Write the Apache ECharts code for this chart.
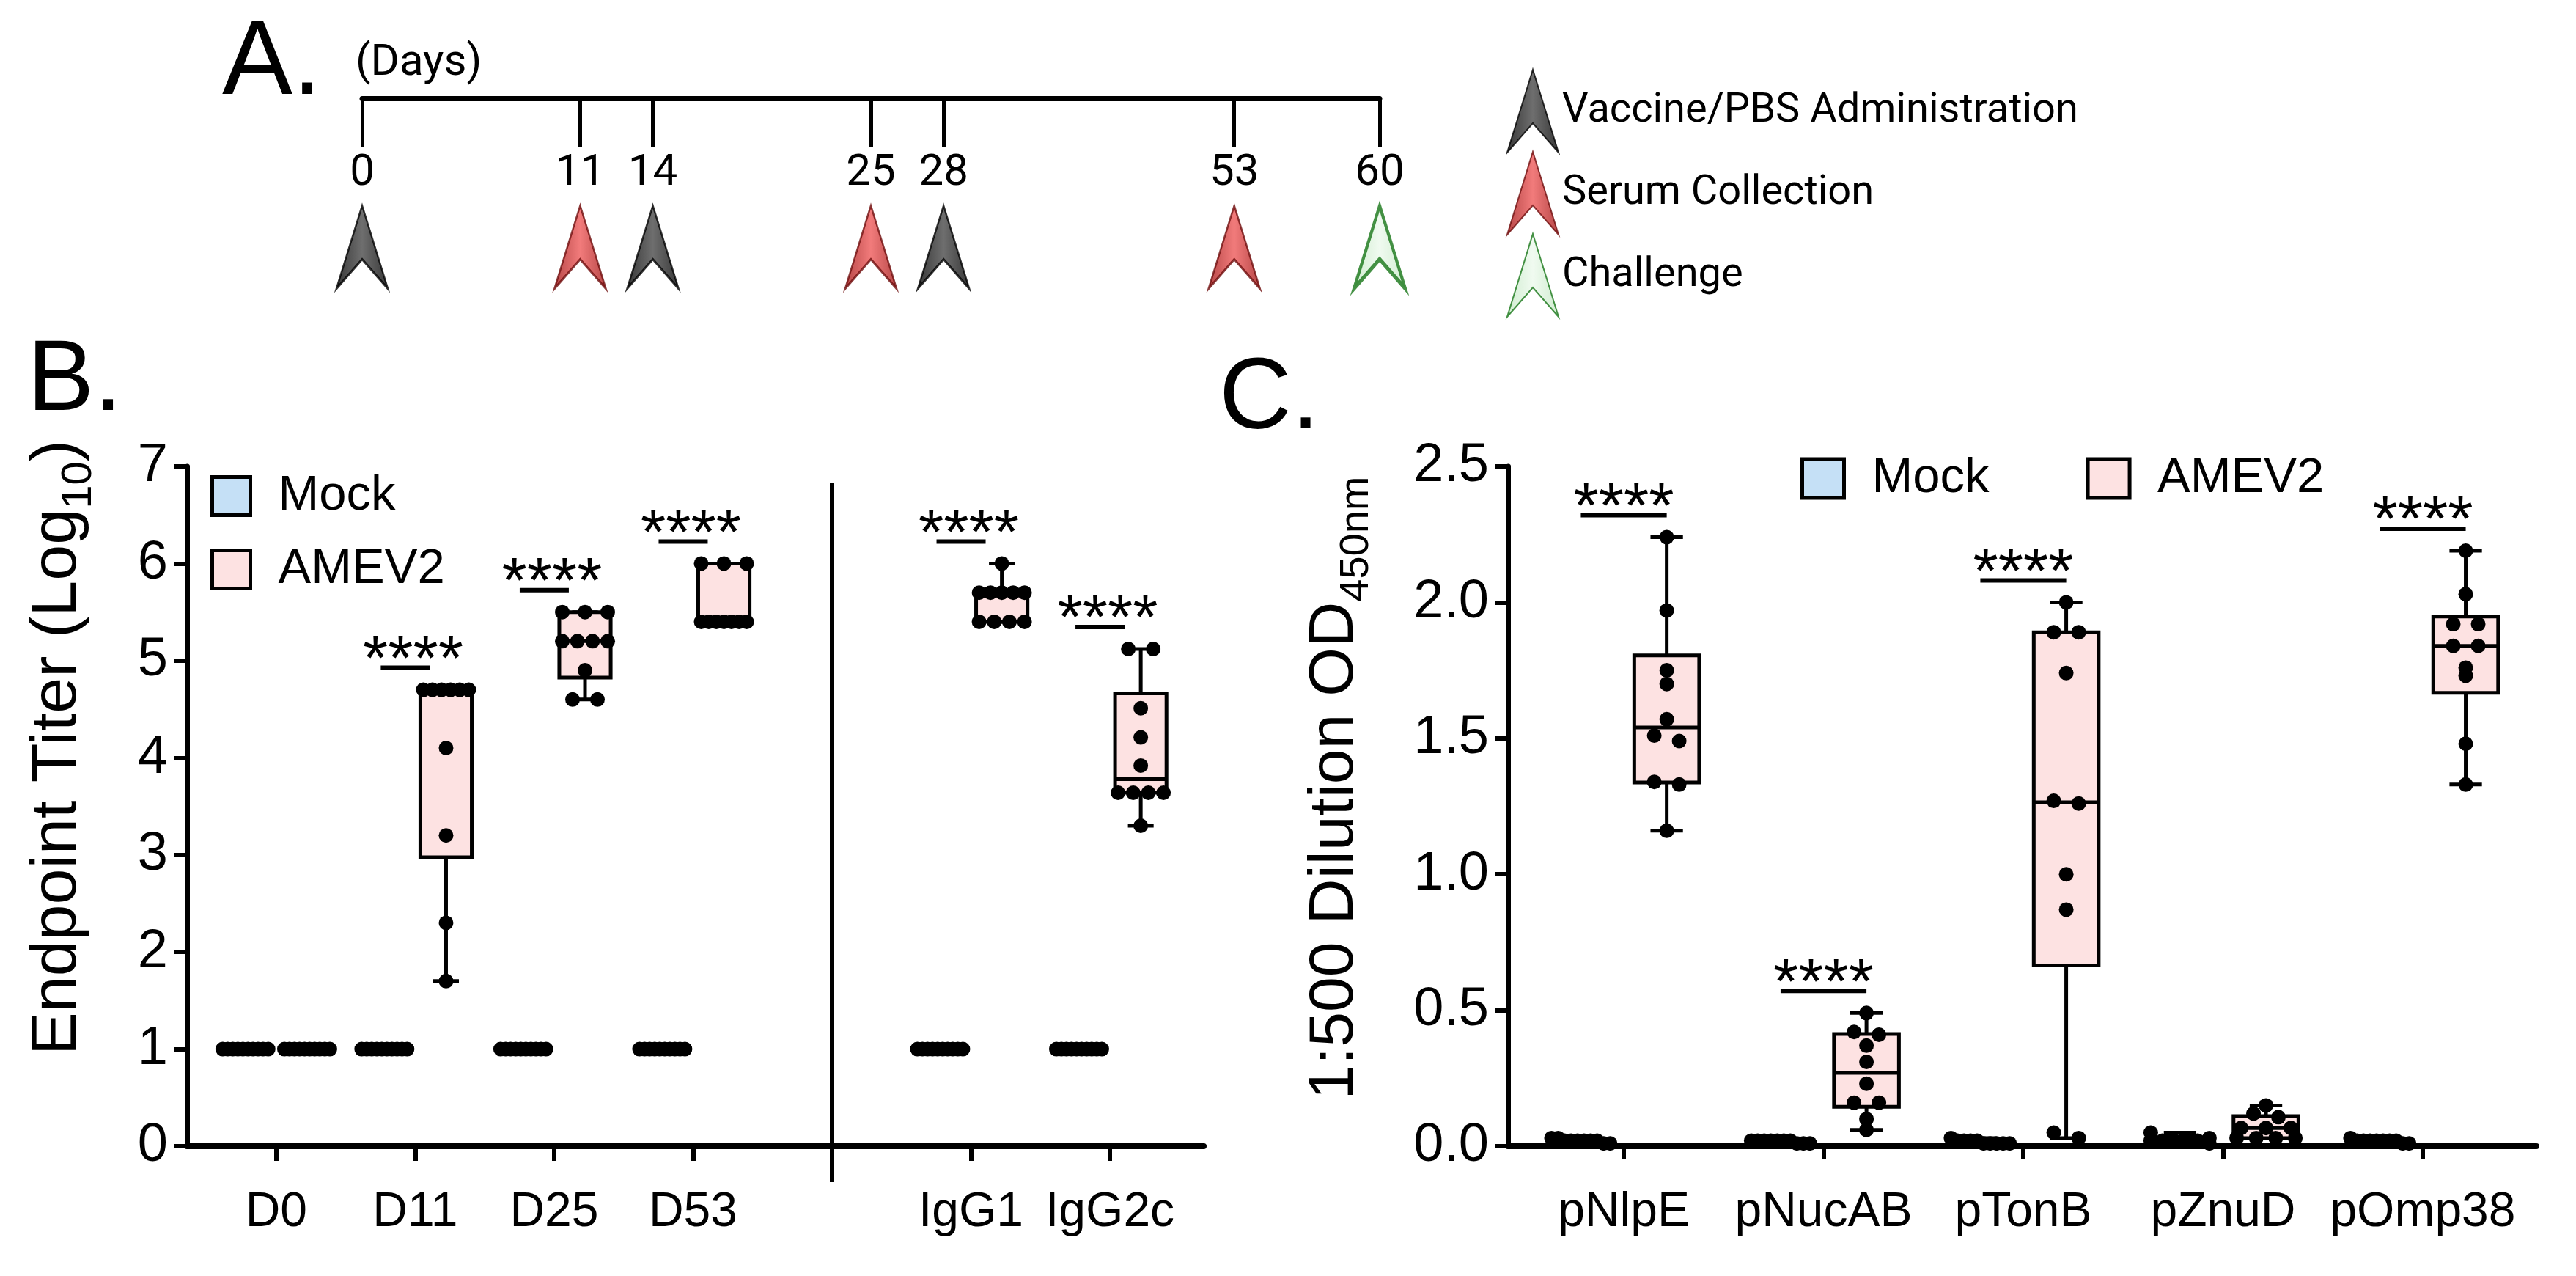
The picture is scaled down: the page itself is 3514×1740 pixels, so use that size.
<!DOCTYPE html>
<html>
<head>
<meta charset="utf-8">
<script src="https://cdn.jsdelivr.net/npm/echarts@6/dist/echarts.min.js"></script>
<style>html,body{margin:0;padding:0;background:#fff}#c{width:3514px;height:1740px}</style>
</head>
<body>
<div id="c"></div>
<script>
// ---------- Panel A: timeline ----------
const timelineSlots = ['0','','','11','14','','','25','28','','','','53','','60'];
const eventDays = ['0','11','14','25','28','53','60'];
const eventTypes = ['Vaccine/PBS Administration','Serum Collection','Vaccine/PBS Administration','Serum Collection','Vaccine/PBS Administration','Serum Collection','Challenge'];
const eventLegend = ['Vaccine/PBS Administration','Serum Collection','Challenge'];

// ---------- Panel B: endpoint titers ----------
const catsB = ['D0','D11','D25','D53','IgG1','IgG2c'];
const mockB = [
  [1,1,1,1,1,1,1,1,1,1],
  [1,1,1,1,1,1,1,1,1,1],
  [1,1,1,1,1,1,1,1,1,1],
  [1,1,1,1,1,1,1,1,1,1],
  [1,1,1,1,1,1,1,1,1,1],
  [1,1,1,1,1,1,1,1,1,1]
];
const amevB = [
  [1,1,1,1,1,1,1,1,1,1],
  [4.7,4.7,4.7,4.7,4.7,4.7,4.1,3.2,2.3,1.7],
  [5.5,5.5,5.5,5.2,5.2,5.2,5.2,4.9,4.6,4.6],
  [6.0,6.0,6.0,5.4,5.4,5.4,5.4,5.4,5.4,5.4],
  [6.0,5.7,5.7,5.7,5.7,5.7,5.4,5.4,5.4,5.4],
  [5.12,5.12,4.51,4.21,3.92,3.64,3.64,3.64,3.64,3.3]
];
const sigB = ['', '****', '****', '****', '****', '****'];
const yTicksB = [0,1,2,3,4,5,6,7];

// ---------- Panel C: 1:500 OD450 ----------
const catsC = ['pNlpE','pNucAB','pTonB','pZnuD','pOmp38'];
const mockC = [
  [0.03,0.02,0.02,0.02,0.01,0.02,0.03,0.02,0.01,0.02],
  [0.02,0.02,0.01,0.02,0.02,0.01,0.02,0.02,0.01,0.02],
  [0.03,0.02,0.02,0.01,0.01,0.02,0.01,0.02,0.01,0.01],
  [0.05,0.03,0.03,0.02,0.02,0.02,0.01,0.02,0.03,0.02],
  [0.03,0.02,0.02,0.02,0.01,0.02,0.02,0.01,0.02,0.02]
];
const amevC = [
  [2.24,1.97,1.75,1.70,1.57,1.51,1.49,1.34,1.33,1.16],
  [0.49,0.42,0.41,0.37,0.31,0.23,0.16,0.16,0.10,0.06],
  [2.00,1.89,1.89,1.74,1.27,1.26,1.00,0.87,0.05,0.03],
  [0.15,0.12,0.107,0.067,0.067,0.067,0.03,0.03,0.03,0.03],
  [2.19,2.03,1.92,1.92,1.84,1.84,1.76,1.73,1.48,1.33]
];
const sigC = ['****','****','****','','****'];

// ---------- helpers ----------
const AR = '"Liberation Sans", Arial, sans-serif';
const RB = 'Roboto, sans-serif';
const MOCK_FILL = '#c5e0f6';
const AMEV_FILL = '#fde2e2';

function quant(s, p) {
  const n = s.length;
  let pos = p * (n + 1);
  if (pos < 1) pos = 1;
  if (pos > n) pos = n;
  const lo = Math.floor(pos), f = pos - lo;
  if (lo >= n) return s[n - 1];
  return s[lo - 1] + f * (s[lo] - s[lo - 1]);
}
function stats(v) {
  const s = v.slice().sort((a, b) => a - b);
  return [s[0], quant(s, 0.25), quant(s, 0.5), quant(s, 0.75), s[s.length - 1]];
}

// positions: panel B has a gap (divider) after D53
const posB = catsB.map((c, i) => (i < 4 ? i + 1 : i + 2));
const dividerB = 5;
const posC = catsC.map((c, i) => i + 1);
const offB = 0.222, offC = 0.215;

function boxRenderer(bw, fill) {
  return function (params, api) {
    const x = api.value(0);
    const pMin = api.coord([x, api.value(1)]);
    const pQ1 = api.coord([x, api.value(2)]);
    const pMed = api.coord([x, api.value(3)]);
    const pQ3 = api.coord([x, api.value(4)]);
    const pMax = api.coord([x, api.value(5)]);
    const w = api.size([bw, 0])[0];
    const cx = pMin[0];
    const cw = w * 0.5;
    const st = { stroke: '#000', lineWidth: 5 };
    return {
      type: 'group',
      children: [
        { type: 'line', shape: { x1: cx, y1: pQ3[1], x2: cx, y2: pMax[1] }, style: st },
        { type: 'line', shape: { x1: cx, y1: pQ1[1], x2: cx, y2: pMin[1] }, style: st },
        { type: 'line', shape: { x1: cx - cw / 2, y1: pMax[1], x2: cx + cw / 2, y2: pMax[1] }, style: st },
        { type: 'line', shape: { x1: cx - cw / 2, y1: pMin[1], x2: cx + cw / 2, y2: pMin[1] }, style: st },
        { type: 'rect', shape: { x: cx - w / 2, y: pQ3[1], width: w, height: pQ1[1] - pQ3[1] },
          style: { fill: fill, stroke: '#000', lineWidth: 5 } },
        { type: 'line', shape: { x1: cx - w / 2, y1: pMed[1], x2: cx + w / 2, y2: pMed[1] }, style: st }
      ]
    };
  };
}

function dotsRenderer(halfMax, n) {
  return function (params, api) {
    const x = api.value(0);
    const pts = [];
    for (let k = 1; k <= n; k++) {
      const p = api.coord([x, api.value(k)]);
      pts.push({ x: p[0], y: p[1], dx: 0 });
    }
    pts.sort((a, b) => a.y - b.y);
    const rows = [];
    pts.forEach(p => {
      const r = rows[rows.length - 1];
      if (r && p.y - r[0].y < 10) r.push(p); else rows.push([p]);
    });
    rows.forEach(r => {
      const k = r.length;
      const sp = k > 1 ? Math.min(34, 2 * halfMax / (k - 1)) : 0;
      r.forEach((p, j) => { p.dx = (j - (k - 1) / 2) * sp; });
    });
    return {
      type: 'group',
      children: pts.map(p => ({
        type: 'circle', shape: { cx: p.x + p.dx, cy: p.y, r: 10 }, style: { fill: '#000' }
      }))
    };
  };
}

function sigRenderer(mode, off) {
  return function (params, api) {
    const x = api.value(0);
    const p = api.coord([x, api.value(1)]);
    const ly = p[1] - 30;
    let x1, x2, tx;
    if (mode === 'B') { x1 = p[0] - 47; x2 = p[0] + 20; tx = p[0] - 3; }
    else { x1 = api.coord([x - off, 0])[0]; x2 = api.coord([x + off, 0])[0]; tx = p[0]; }
    return {
      type: 'group',
      children: [
        { type: 'line', shape: { x1: x1, y1: ly, x2: x2, y2: ly }, style: { stroke: '#000', lineWidth: 6 } },
        { type: 'text', x: tx, y: ly - 8,
          style: { text: '****', fill: '#000', fontSize: 88, fontFamily: 'Liberation Sans',
                   align: 'center', verticalAlign: 'middle' } }
      ]
    };
  };
}

const DIMS = [1,2,3,4,5,6,7,8,9,10];

// Arrow symbol
const arrowPath = 'path://M35,0 L70,113 L35,73 L0,113 Z';
const G = echarts.graphic.LinearGradient;
const arrowStyles = {
  'Vaccine/PBS Administration': { color: new G(0,0,1,0,[{offset:0,color:'#050505'},{offset:0.5,color:'#4a4a4a'},{offset:1,color:'#050505'}]), borderColor: '#000', borderWidth: 3 },
  'Serum Collection': { color: new G(0,0,1,0,[{offset:0,color:'#a41818'},{offset:0.5,color:'#ee5a5a'},{offset:1,color:'#a41818'}]), borderColor: '#6e0c0c', borderWidth: 3 },
  'Challenge': { color: new G(0,0,1,0,[{offset:0,color:'#c4e8c4'},{offset:0.5,color:'#ecf9ec'},{offset:1,color:'#c4e8c4'}]), borderColor: '#167516', borderWidth: 5 }
};

const series = [];
// timeline arrows
eventLegend.forEach(t => {
  series.push({
    type: 'scatter', name: t, xAxisIndex: 0, yAxisIndex: 0,
    symbol: arrowPath, symbolSize: [70, 113],
    itemStyle: arrowStyles[t],
    data: eventDays.filter((d, i) => eventTypes[i] === t).map(d => [timelineSlots.indexOf(d), 0.5]),
    z: 5, silent: true
  });
});

// Panel B
series.push({ type: 'custom', name: 'Mock', xAxisIndex: 1, yAxisIndex: 1, renderItem: boxRenderer(0.37, MOCK_FILL),
  encode: { x: 0, y: [1,2,3,4,5] }, data: posB.map((p, i) => [p - offB].concat(stats(mockB[i]))), z: 3, silent: true });
series.push({ type: 'custom', name: 'AMEV2', xAxisIndex: 1, yAxisIndex: 1, renderItem: boxRenderer(0.37, AMEV_FILL),
  encode: { x: 0, y: [1,2,3,4,5] }, data: posB.map((p, i) => [p + offB].concat(stats(amevB[i]))), z: 3, silent: true });
series.push({ type: 'custom', name: 'mockDotsB', xAxisIndex: 1, yAxisIndex: 1, renderItem: dotsRenderer(31, 10),
  encode: { x: 0, y: DIMS }, data: posB.map((p, i) => [p - offB].concat(mockB[i])), z: 4, silent: true });
series.push({ type: 'custom', name: 'amevDotsB', xAxisIndex: 1, yAxisIndex: 1, renderItem: dotsRenderer(31, 10),
  encode: { x: 0, y: DIMS }, data: posB.map((p, i) => [p + offB].concat(amevB[i])), z: 4, silent: true });
series.push({ type: 'custom', name: 'sigB', xAxisIndex: 1, yAxisIndex: 1, renderItem: sigRenderer('B'),
  encode: { x: 0, y: 1 },
  data: posB.map((p, i) => [p, Math.max.apply(null, amevB[i])]).filter((d, i) => sigB[i]), z: 6, silent: true });
series.push({ type: 'custom', name: 'dividerB', xAxisIndex: 1, yAxisIndex: 1,
  renderItem: function (params, api) {
    const a = api.coord([api.value(0), api.value(1)]);
    const b = api.coord([api.value(0), api.value(2)]);
    return { type: 'line', shape: { x1: a[0], y1: a[1], x2: b[0], y2: b[1] }, style: { stroke: '#000', lineWidth: 6 } };
  },
  encode: { x: 0, y: [1,2] }, data: [[dividerB, 6.83, -0.37]], z: 2, silent: true });

// Panel C
series.push({ type: 'custom', name: 'Mock', xAxisIndex: 2, yAxisIndex: 2, renderItem: boxRenderer(0.325, MOCK_FILL),
  encode: { x: 0, y: [1,2,3,4,5] }, data: posC.map((p, i) => [p - offC].concat(stats(mockC[i]))), z: 3, silent: true });
series.push({ type: 'custom', name: 'AMEV2', xAxisIndex: 2, yAxisIndex: 2, renderItem: boxRenderer(0.325, AMEV_FILL),
  encode: { x: 0, y: [1,2,3,4,5] }, data: posC.map((p, i) => [p + offC].concat(stats(amevC[i]))), z: 3, silent: true });
series.push({ type: 'custom', name: 'mockDotsC', xAxisIndex: 2, yAxisIndex: 2, renderItem: dotsRenderer(40, 10),
  encode: { x: 0, y: DIMS }, data: posC.map((p, i) => [p - offC].concat(mockC[i])), z: 4, silent: true });
series.push({ type: 'custom', name: 'amevDotsC', xAxisIndex: 2, yAxisIndex: 2, renderItem: dotsRenderer(40, 10),
  encode: { x: 0, y: DIMS }, data: posC.map((p, i) => [p + offC].concat(amevC[i])), z: 4, silent: true });
series.push({ type: 'custom', name: 'sigC', xAxisIndex: 2, yAxisIndex: 2, renderItem: sigRenderer('C', offC),
  encode: { x: 0, y: 1 },
  data: posC.map((p, i) => [p, Math.max.apply(null, amevC[i])]).filter((d, i) => sigC[i]), z: 6, silent: true });

const option = {
  backgroundColor: '#fff',
  animation: false,
  title: [
    { text: 'A.', left: 303, top: 16, padding: 0, textStyle: { fontFamily: AR, fontSize: 144, fontWeight: 'normal', color: '#000' } },
    { text: '(Days)', left: 485, top: 57, padding: 0, textStyle: { fontFamily: RB, fontSize: 60, fontWeight: 'normal', color: '#000' } },
    { text: 'B.', left: 37, top: 453, padding: 0, textStyle: { fontFamily: AR, fontSize: 137, fontWeight: 'normal', color: '#000' } },
    { text: 'C.', left: 1663, top: 478, padding: 0, textStyle: { fontFamily: AR, fontSize: 137, fontWeight: 'normal', color: '#000' } }
  ],
  legend: [
    { orient: 'vertical', left: 2055, top: 94, itemWidth: 70, itemHeight: 113, itemGap: -3, padding: 0,
      selectedMode: false, data: eventLegend,
      textStyle: { fontFamily: RB, fontSize: 56, color: '#000' } },
    { orient: 'vertical', left: 287, top: 643, itemWidth: 52, itemHeight: 52, itemGap: 33, padding: 0, selectedMode: false,
      data: [
        { name: 'Mock', icon: 'rect', itemStyle: { color: MOCK_FILL, borderColor: '#000', borderWidth: 5 } },
        { name: 'AMEV2', icon: 'rect', itemStyle: { color: AMEV_FILL, borderColor: '#000', borderWidth: 5 } }
      ],
      textStyle: { fontFamily: AR, fontSize: 67, color: '#000', padding: [0, 0, 0, 33] } },
    { orient: 'horizontal', left: 2456, top: 619, itemWidth: 57, itemHeight: 53, itemGap: 132, padding: 0, selectedMode: false,
      data: [
        { name: 'Mock', icon: 'rect', itemStyle: { color: MOCK_FILL, borderColor: '#000', borderWidth: 5 } },
        { name: 'AMEV2', icon: 'rect', itemStyle: { color: AMEV_FILL, borderColor: '#000', borderWidth: 5 } }
      ],
      textStyle: { fontFamily: AR, fontSize: 67, color: '#000', padding: [0, 0, 0, 33] } }
  ],
  grid: [
    { left: 494, top: 134, width: 1388, height: 406 },
    { left: 255, top: 636, width: 1387, height: 927 },
    { left: 2057, top: 636, width: 1403, height: 927 }
  ],
  xAxis: [
    { gridIndex: 0, type: 'category', data: timelineSlots, position: 'top', boundaryGap: false,
      axisLine: { onZero: false, lineStyle: { color: '#000', width: 7 } },
      axisTick: { inside: true, length: 66, lineStyle: { color: '#000', width: 5 }, interval: (i, v) => v !== '' },
      axisLabel: { inside: true, margin: 73, interval: (i, v) => v !== '', fontFamily: RB, fontSize: 60, color: '#000' },
      splitLine: { show: false } },
    { gridIndex: 1, type: 'value', min: 0.357, max: 7.675,
      axisLine: { onZero: false, lineStyle: { color: '#000', width: 8 } },
      axisTick: { show: true, customValues: posB, length: 20, lineStyle: { color: '#000', width: 6 } },
      axisLabel: { customValues: posB, formatter: v => catsB[posB.indexOf(v)] || '', margin: 58,
                   fontFamily: AR, fontSize: 66, color: '#000' },
      splitLine: { show: false } },
    { gridIndex: 2, type: 'value', min: 0.42, max: 5.569,
      axisLine: { onZero: false, lineStyle: { color: '#000', width: 8 } },
      axisTick: { show: true, customValues: posC, length: 18, lineStyle: { color: '#000', width: 6 } },
      axisLabel: { customValues: posC, formatter: v => catsC[posC.indexOf(v)] || '', margin: 58,
                   fontFamily: AR, fontSize: 66, color: '#000' },
      splitLine: { show: false } }
  ],
  yAxis: [
    { gridIndex: 0, type: 'value', min: 0, max: 1, show: false },
    { gridIndex: 1, type: 'value', min: yTicksB[0], max: yTicksB[yTicksB.length - 1], interval: 1,
      axisLine: { show: true, lineStyle: { color: '#000', width: 7 } },
      axisTick: { show: true, length: 17, lineStyle: { color: '#000', width: 6 } },
      axisLabel: { margin: 26, fontFamily: AR, fontSize: 74, color: '#000' },
      splitLine: { show: false },
      name: 'Endpoint Titer (Log{s|10})', nameLocation: 'middle', nameGap: 118,
      nameTextStyle: { fontFamily: AR, fontSize: 88, color: '#000', lineHeight: 116, padding: [0, 0, 0, 160],
        rich: { s: { fontFamily: AR, fontSize: 58, lineHeight: 58, verticalAlign: 'bottom', color: '#000' } } } },
    { gridIndex: 2, type: 'value', min: 0, max: 2.5, interval: 0.5,
      axisLine: { show: true, lineStyle: { color: '#000', width: 7 } },
      axisTick: { show: true, length: 17, lineStyle: { color: '#000', width: 6 } },
      axisLabel: { margin: 26, fontFamily: AR, fontSize: 74, color: '#000', formatter: v => v.toFixed(1) },
      splitLine: { show: false },
      name: '1:500 Dilution OD{s|450nm}', nameLocation: 'middle', nameGap: 178,
      nameTextStyle: { fontFamily: AR, fontSize: 86, color: '#000', lineHeight: 116, padding: [0, 0, 0, 50],
        rich: { s: { fontFamily: AR, fontSize: 56, lineHeight: 56, verticalAlign: 'bottom', color: '#000' } } } }
  ],
  series: series
};

const chart = echarts.init(document.getElementById('c'), null, { renderer: 'canvas', width: 3514, height: 1740 });
chart.setOption(option);
</script>
</body>
</html>
